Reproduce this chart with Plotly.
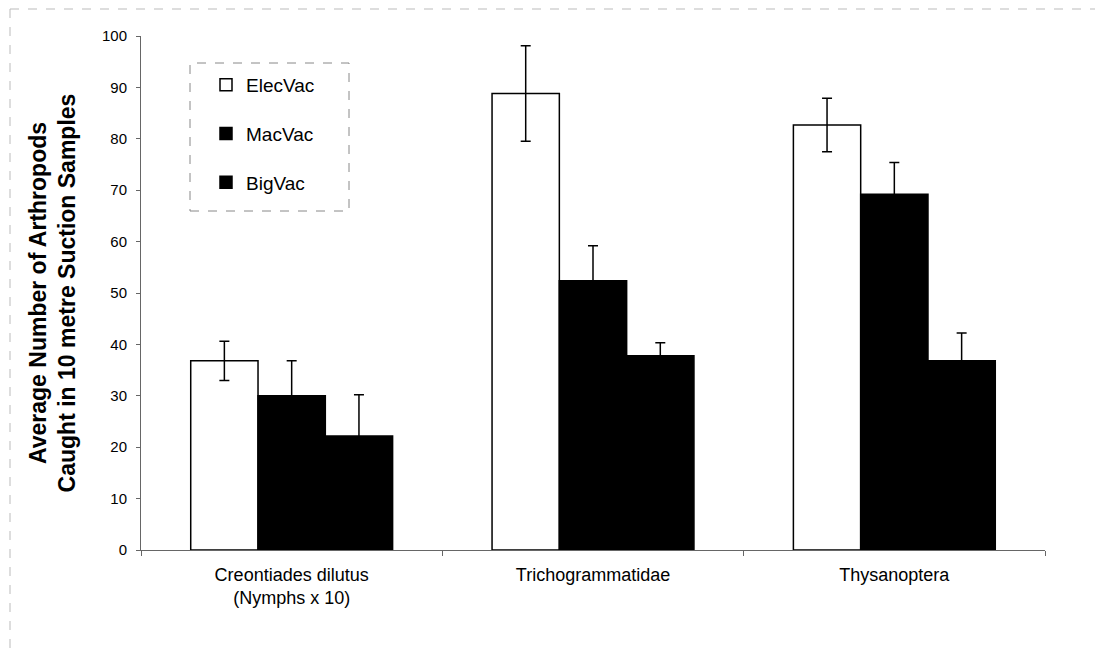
import plotly.graph_objects as go

categories = ["Creontiades dilutus<br>(Nymphs x 10)", "Trichogrammatidae", "Thysanoptera"]
series_names = ["ElecVac", "MacVac", "BigVac"]
elecvac = [36.8, 88.8, 82.7]
elecvac_err = [3.8, 9.3, 5.2]
macvac = [30.0, 52.4, 69.2]
macvac_err = [6.8, 6.8, 6.2]
bigvac = [22.2, 37.8, 36.8]
bigvac_err = [8.0, 2.5, 5.4]
y_ticks = [0, 10, 20, 30, 40, 50, 60, 70, 80, 90, 100]

FONT = "Arial, Liberation Sans, sans-serif"
fills = ["white", "black", "black"]
vals = [elecvac, macvac, bigvac]
errs = [elecvac_err, macvac_err, bigvac_err]

fig = go.Figure()
for i, name in enumerate(series_names):
    fig.add_trace(go.Bar(
        x=categories, y=vals[i], name=name,
        legendgroup=name,
        marker=dict(color=fills[i], line=dict(color="black", width=1.5)),
        error_y=dict(type="data", array=errs[i], visible=True,
                     color="black", thickness=1.5, width=5),
    ))

# the page body adds an 8px offset; work in page pixels and convert
OFF = 8
W, H = 1105 - OFF, 652 - OFF
ml, mr, mt, mb = 141 - OFF, 60, 36 - OFF, 102
pw, ph = W - ml - mr, H - mt - mb

def px(xp):
    return (xp - OFF - ml) / pw

def py(yp):
    return (H - mb - (yp - OFF)) / ph

fig.update_layout(
    width=W, height=H,
    margin=dict(l=ml, r=mr, t=mt, b=mb),
    paper_bgcolor="white", plot_bgcolor="white",
    barmode="group", bargap=0.33, bargroupgap=0,
    font=dict(family=FONT, color="black", size=15),
    showlegend=True,
    legend=dict(
        x=px(206), y=py(66), xanchor="left", yanchor="top",
        font=dict(size=19, family=FONT, color="black"),
        bgcolor="rgba(0,0,0,0)", borderwidth=0,
        traceorder="grouped", tracegroupgap=21, itemwidth=30,
    ),
    xaxis=dict(
        showgrid=False, showline=True, linecolor="#666", linewidth=1,
        ticks="outside", tickson="boundaries", ticklen=5, tickcolor="#666",
        tickfont=dict(size=18, family=FONT, color="black"),
        ticklabelstandoff=8,
    ),
    yaxis=dict(
        range=[0, 100], tickvals=y_ticks, showgrid=False, zeroline=False,
        showline=True, linecolor="#666", linewidth=1,
        ticks="outside", ticklen=4, tickcolor="#666",
        tickfont=dict(size=15, family=FONT, color="black"),
        ticklabelstandoff=6,
        title=dict(text="<b>Average Number of Arthropods<br>Caught in 10 metre Suction Samples</b>",
                   font=dict(size=23, family=FONT, color="black"), standoff=19),
    ),
    shapes=[
        dict(type="rect", xref="paper", yref="paper",
             x0=px(190), x1=px(349), y0=py(211), y1=py(63),
             line=dict(color="#888", width=1, dash="dash")),
        dict(type="line", xref="paper", yref="paper",
             x0=px(10), x1=px(1095), y0=py(9), y1=py(9),
             line=dict(color="#bbb", width=1, dash="dash")),
        dict(type="line", xref="paper", yref="paper",
             x0=px(10), x1=px(10), y0=py(9), y1=py(648),
             line=dict(color="#bbb", width=1, dash="dash")),
    ],
)

fig.write_html("out.html")
